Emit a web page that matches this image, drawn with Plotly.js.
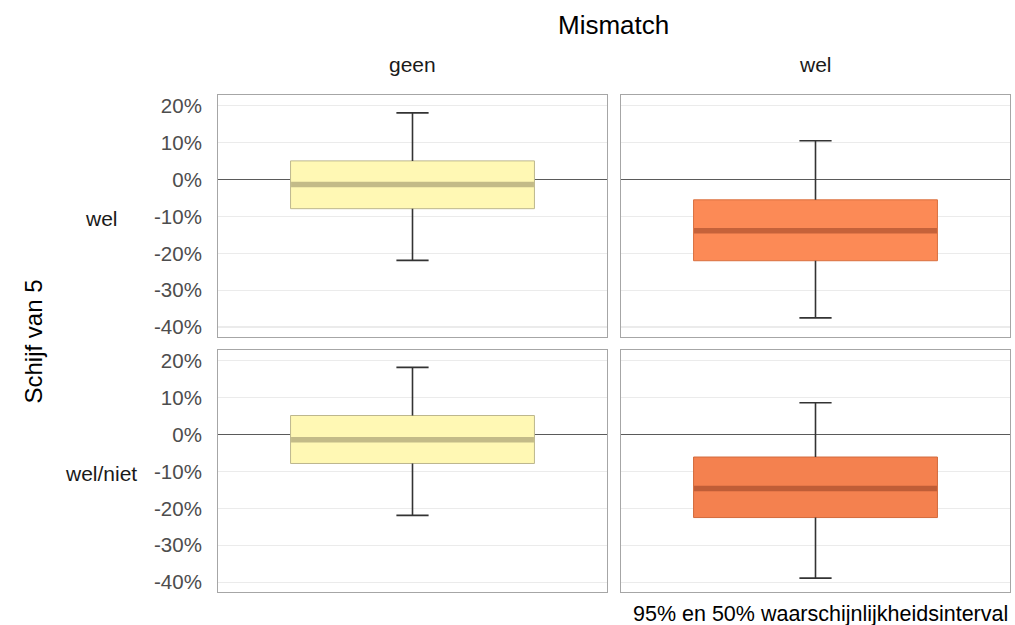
<!DOCTYPE html>
<html>
<head>
<meta charset="utf-8">
<script src="https://cdn.plot.ly/plotly-3.0.1.min.js"></script>
<style>
  html, body { margin: 0; padding: 0; background: #fff; }
  #chart { width: 1015px; height: 625px; }
</style>
</head>
<body>
<div id="chart"></div>
<script>
// ---- data (percent) ; panel order: [wel/geen, wel/wel, wel-niet/geen, wel-niet/wel]
const mismatchLevels = ['geen', 'wel'];
const schijfLevels = ['wel', 'wel/niet'];
const panelMismatch = ['geen', 'wel', 'geen', 'wel'];
const panelSchijf = ['wel', 'wel', 'wel/niet', 'wel/niet'];
const lower95 = [-21.9, -37.5, -21.9, -38.9];
const lower50 = [-7.9, -22.0, -7.85, -22.5];
const median  = [-1.35, -13.9, -1.4, -14.6];
const upper50 = [5.05, -5.5, 5.15, -6.1];
const upper95 = [18.05, 10.5, 18.2, 8.6];
const fillColors   = ['#FFF8B4', '#FC8A56', '#FFF8B4', '#F4814F'];
const borderColors = ['#BDB78E', '#D9703F', '#BDB78E', '#D26A3C'];
const medianColors = ['#C3BB88', '#C5623A', '#C3BB88', '#BF5D37'];
const tickVals = [-40, -30, -20, -10, 0, 10, 20];
const tickText = ['-40%', '-30%', '-20%', '-10%', '0%', '10%', '20%'];
const titleText = 'Mismatch';
const rowTitleText = 'Schijf van 5';
const captionText = '95% en 50% waarschijnlijkheidsinterval';

// ---- layout geometry (paper fractions)
const W = 1015, H = 625;
const colDomains = [[218 / W, 607 / W], [621 / W, 1010 / W]];
const rowDomains = [[1 - 337.3 / H, 1 - 95 / H], [1 - 592.3 / H, 1 - 350 / H]];
const yRange = [-42.75, 22.9];
const FONT = 'Liberation Sans, Arial, sans-serif';

const traces = [];
const layout = {
  width: W, height: H,
  margin: { l: 0, r: 0, t: 0, b: 0 },
  paper_bgcolor: '#ffffff',
  plot_bgcolor: '#ffffff',
  showlegend: false,
  hovermode: false,
  font: { family: FONT, size: 21, color: '#1A1A1A' },
  annotations: [],
  bargap: 0
};

for (let i = 0; i < 4; i++) {
  const col = mismatchLevels.indexOf(panelMismatch[i]);
  const row = schijfLevels.indexOf(panelSchijf[i]);
  const n = i === 0 ? '' : String(i + 1);
  const xa = 'x' + n, ya = 'y' + n;
  const c = panelMismatch[i];

  // 50% interval box
  traces.push({
    type: 'bar', x: [c], base: [lower50[i]], y: [upper50[i] - lower50[i]],
    width: [0.627], xaxis: xa, yaxis: ya,
    marker: { color: fillColors[i], line: { color: borderColors[i], width: 1 } }
  });
  // 95% whiskers (outside the box)
  traces.push({
    type: 'scatter', mode: 'lines', xaxis: xa, yaxis: ya,
    x: [c, c, c, c, c], y: [upper95[i], upper50[i], null, lower50[i], lower95[i]],
    connectgaps: false, line: { color: '#333333', width: 1.6 }
  });
  // whisker caps
  traces.push({
    type: 'scatter', mode: 'markers', xaxis: xa, yaxis: ya,
    x: [c, c], y: [upper95[i], lower95[i]],
    marker: { symbol: 'line-ew', size: 23, color: '#333333', line: { color: '#333333', width: 1.6 } }
  });
  // median band
  traces.push({
    type: 'scatter', mode: 'markers', xaxis: xa, yaxis: ya,
    x: [c], y: [median[i]],
    marker: { symbol: 'line-ew', size: 173.5, color: medianColors[i], line: { color: medianColors[i], width: 5.5 } }
  });

  layout['xaxis' + n] = {
    domain: colDomains[col], anchor: ya, type: 'category',
    range: [-0.5, 0.5], showticklabels: false, ticks: '',
    showgrid: false, zeroline: false,
    showline: true, mirror: true, linecolor: '#A6A6A6', linewidth: 1,
    fixedrange: true
  };
  layout['yaxis' + n] = {
    domain: rowDomains[row], anchor: xa, range: yRange,
    tickvals: tickVals, ticktext: tickText,
    showticklabels: col === 0,
    ticks: 'outside', ticklen: 11, tickcolor: 'rgba(0,0,0,0)',
    tickfont: { family: FONT, size: 20.5, color: '#4D4D4D' },
    showgrid: true, gridcolor: '#EBEBEB', gridwidth: 1.3,
    zeroline: true, zerolinecolor: '#5A5A5A', zerolinewidth: 1.6,
    showline: true, mirror: true, linecolor: '#A6A6A6', linewidth: 1,
    fixedrange: true
  };
}

// strip labels (columns)
mismatchLevels.forEach((lab, k) => {
  layout.annotations.push({
    text: lab, xref: 'paper', yref: 'paper',
    x: (colDomains[k][0] + colDomains[k][1]) / 2, y: 1 - 65 / H,
    xanchor: 'center', yanchor: 'middle', showarrow: false,
    font: { family: FONT, size: 21, color: '#1A1A1A' }
  });
});
// strip labels (rows)
schijfLevels.forEach((lab, k) => {
  layout.annotations.push({
    text: lab, xref: 'paper', yref: 'paper',
    x: 101 / W, y: (rowDomains[k][0] + rowDomains[k][1]) / 2 - 2 / H,
    xanchor: 'center', yanchor: 'middle', showarrow: false,
    font: { family: FONT, size: 21, color: '#1A1A1A' }
  });
});
// facet titles
layout.annotations.push({
  text: titleText, xref: 'paper', yref: 'paper',
  x: 613 / W, y: 1 - 25 / H, xanchor: 'center', yanchor: 'middle', showarrow: false,
  font: { family: FONT, size: 26, color: '#000000' }
});
layout.annotations.push({
  text: rowTitleText, xref: 'paper', yref: 'paper',
  x: 33 / W, y: 1 - 341.5 / H, xanchor: 'center', yanchor: 'middle', showarrow: false,
  textangle: -90,
  font: { family: FONT, size: 24, color: '#000000' }
});
// caption
layout.annotations.push({
  text: captionText, xref: 'paper', yref: 'paper',
  x: 1010 / W, y: 1 - 614 / H, xanchor: 'right', yanchor: 'middle', showarrow: false,
  font: { family: FONT, size: 21.5, color: '#000000' }
});

Plotly.newPlot('chart', traces, layout, { staticPlot: true, displayModeBar: false });
</script>
</body>
</html>
